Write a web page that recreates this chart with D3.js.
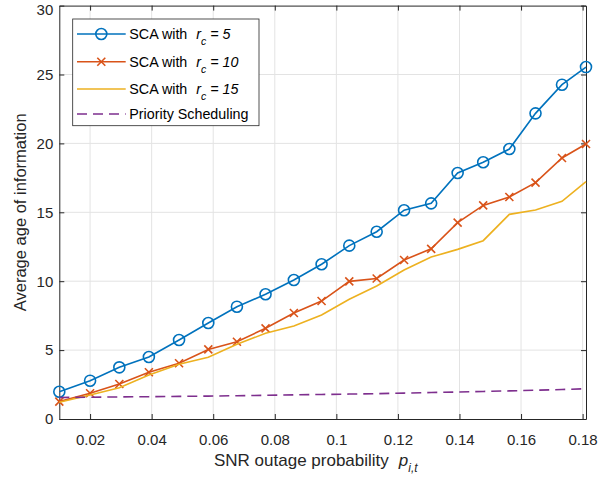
<!DOCTYPE html>
<html>
<head>
<meta charset="utf-8">
<title>Average age of information vs SNR outage probability</title>
<script src="https://d3js.org/d3.v7.min.js"></script>
<style>
body { margin: 0; background: #fff; font-family: "Liberation Sans", Arial, sans-serif; }
.tick text { font-size: 15px; fill: #262626; font-family: "Liberation Sans", Arial, sans-serif; }
.tick line { stroke: #262626; }
.grid line { stroke: #e3e3e3; stroke-width: 1; }
text { white-space: pre; }
</style>
</head>
<body>
<div id="chart"></div>
<script>
// data
var pOut = [0.0100, 0.0200, 0.0295, 0.0391, 0.0489, 0.0584, 0.0677, 0.0770, 0.0862, 0.0952,
            0.1042, 0.1131, 0.1220, 0.1308, 0.1394, 0.1477, 0.1562, 0.1647, 0.1733, 0.1811];
var aoiR5 = [1.98, 2.78, 3.75, 4.50, 5.73, 6.97, 8.15, 9.05, 10.09, 11.23,
             12.58, 13.59, 15.15, 15.65, 17.85, 18.63, 19.59, 22.18, 24.26, 25.54];
var aoiR10 = [1.26, 1.87, 2.54, 3.39, 4.05, 5.05, 5.61, 6.58, 7.69, 8.56,
              9.99, 10.20, 11.54, 12.35, 14.25, 15.50, 16.11, 17.15, 18.94, 19.96];
var aoiR15 = [1.21, 1.74, 2.27, 3.19, 3.97, 4.48, 5.42, 6.22, 6.75, 7.55,
              8.69, 9.65, 10.81, 11.75, 12.31, 12.94, 14.85, 15.17, 15.80, 17.22];
var aoiPrio = [1.56, 1.58, 1.60, 1.62, 1.64, 1.66, 1.69, 1.72, 1.75, 1.78,
               1.81, 1.84, 1.88, 1.92, 1.96, 2.00, 2.04, 2.09, 2.14, 2.20];
var xTicks = [0.02, 0.04, 0.06, 0.08, 0.1, 0.12, 0.14, 0.16, 0.18];
var yTicks = [0, 5, 10, 15, 20, 25, 30];
var legendNames = ["SCA with", "SCA with", "SCA with", "Priority Scheduling"];
var legendR = ["5", "10", "15", null];

var width = 598, height = 481;
var margin = {left: 59.3, right: 12, top: 5.6, bottom: 62};
var w = width - margin.left - margin.right,
    h = height - margin.top - margin.bottom;

var svg = d3.select("#chart").append("svg")
  .attr("width", width)
  .attr("height", height);

var g = svg.append("g")
  .attr("transform", "translate(" + margin.left + "," + margin.top + ")");

var x = d3.scaleLinear().domain([0.01, pOut[pOut.length - 1]]).range([0, w]);
var y = d3.scaleLinear().domain([0, 30]).range([h, 0]);

// grid
g.append("g").attr("class", "grid")
  .selectAll("line").data(xTicks).enter().append("line")
  .attr("x1", d => x(d)).attr("x2", d => x(d))
  .attr("y1", 0).attr("y2", h);
g.append("g").attr("class", "grid")
  .selectAll("line").data(yTicks.slice(1, -1)).enter().append("line")
  .attr("x1", 0).attr("x2", w)
  .attr("y1", d => y(d)).attr("y2", d => y(d));

// axes, ticks pointing inwards
var fmt = d => String(+d.toFixed(2));
var xAxis = g.append("g").attr("transform", "translate(0," + h + ")")
  .call(d3.axisBottom(x).tickValues(xTicks).tickFormat(fmt)
        .tickSizeInner(-5).tickSizeOuter(0).tickPadding(15));
var xTop = g.append("g")
  .call(d3.axisTop(x).tickValues(xTicks).tickFormat("")
        .tickSizeInner(-5).tickSizeOuter(0));
var yAxis = g.append("g")
  .call(d3.axisLeft(y).tickValues(yTicks)
        .tickSizeInner(-5).tickSizeOuter(0).tickPadding(6));
var yRight = g.append("g").attr("transform", "translate(" + w + ",0)")
  .call(d3.axisRight(y).tickValues(yTicks).tickFormat("")
        .tickSizeInner(-5).tickSizeOuter(0));
g.selectAll(".domain").attr("stroke", "#262626").attr("stroke-width", 1);
// top label sits a little lower so it is not cut by the page edge
yAxis.selectAll(".tick text").filter(d => d === 30).attr("dy", "0.6em");

// lines
var series = [
  {vals: aoiR5, color: "#0072BD", marker: "o", dash: null},
  {vals: aoiR10, color: "#D95319", marker: "x", dash: null},
  {vals: aoiR15, color: "#EDB120", marker: null, dash: null},
  {vals: aoiPrio, color: "#7E2F8E", marker: null, dash: "10,6"}
];

var line = d3.line().x(d => x(d[0])).y(d => y(d[1]));

series.forEach(function(s) {
  var pts = pOut.map((p, i) => [p, s.vals[i]]);
  g.append("path")
    .datum(pts)
    .attr("d", line)
    .attr("fill", "none")
    .attr("stroke", s.color)
    .attr("stroke-width", 1.6)
    .attr("stroke-dasharray", s.dash);
  drawMarkers(g, pts, s);
});

function drawMarkers(sel, pts, s) {
  if (s.marker === "o") {
    sel.selectAll(null).data(pts).enter().append("circle")
      .attr("cx", d => x(d[0])).attr("cy", d => y(d[1]))
      .attr("r", 5.5)
      .attr("fill", "none").attr("stroke", s.color).attr("stroke-width", 1.6);
  } else if (s.marker === "x") {
    var k = 4;
    sel.selectAll(null).data(pts).enter().append("path")
      .attr("d", d => {
        var cx = x(d[0]), cy = y(d[1]);
        return "M" + (cx - k) + "," + (cy - k) + "L" + (cx + k) + "," + (cy + k) +
               "M" + (cx - k) + "," + (cy + k) + "L" + (cx + k) + "," + (cy - k);
      })
      .attr("stroke", s.color).attr("stroke-width", 1.6);
  }
}

// axis labels
var xl = svg.append("text")
  .attr("x", 214).attr("y", 466)
  .attr("font-size", 17).attr("fill", "#262626");
xl.append("tspan").text("SNR outage probability");
xl.append("tspan").attr("dx", 10).attr("font-style", "italic").text("p");
xl.append("tspan").attr("font-style", "italic").attr("font-size", 12).attr("dy", 6).text("i,t");

svg.append("text")
  .attr("transform", "translate(26," + (margin.top + h / 2) + ") rotate(-90)")
  .attr("text-anchor", "middle")
  .attr("font-size", 16.5).attr("fill", "#262626")
  .text("Average age of information");

// legend
var leg = svg.append("g");
leg.append("rect")
  .attr("x", 72.7).attr("y", 19).attr("width", 186.3).attr("height", 106.7)
  .attr("fill", "#fff").attr("stroke", "#262626").attr("stroke-width", 0.8);
var rowY = [34, 61.7, 89, 114];
series.forEach(function(s, i) {
  var ly = rowY[i];
  leg.append("line")
    .attr("x1", 77).attr("x2", 125.7).attr("y1", ly).attr("y2", ly)
    .attr("stroke", s.color).attr("stroke-width", 1.6)
    .attr("stroke-dasharray", s.dash);
  drawMarkers(leg, [[x.invert(101.3 - margin.left), y.invert(ly - margin.top)]], s);
  var t = leg.append("text")
    .attr("x", 129.3).attr("y", ly + 4.8)
    .attr("font-size", 14.3).attr("fill", "#000");
  t.append("tspan").text(legendNames[i]);
  if (legendR[i]) {
    t.append("tspan").attr("dx", 9).attr("font-style", "italic").text("r");
    t.append("tspan").attr("font-style", "italic").attr("font-size", 10.5).attr("dy", 6).text("c");
    t.append("tspan").attr("font-style", "italic").attr("dy", -6).text(" = " + legendR[i]);
  }
});
// legend markers are positioned through the plot scales, shift them back
leg.selectAll("circle, path").attr("transform", "translate(" + margin.left + "," + margin.top + ")");
</script>
</body>
</html>
